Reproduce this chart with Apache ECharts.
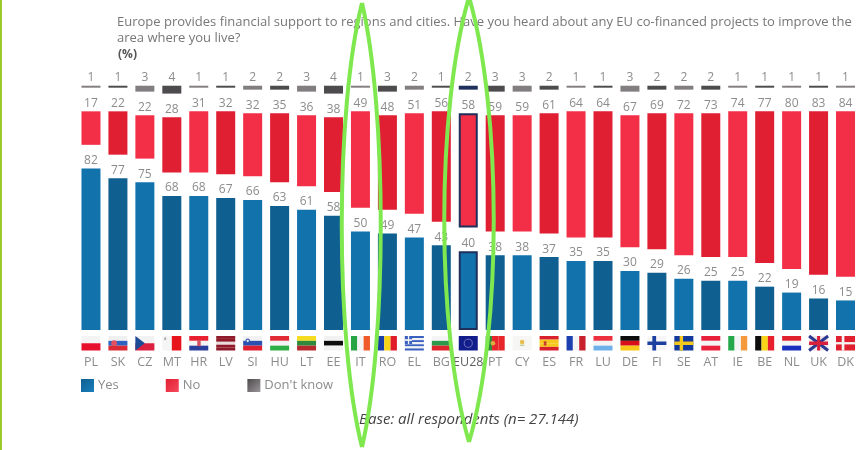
<!DOCTYPE html>
<html>
<head>
<meta charset="utf-8">
<style>html,body{margin:0;padding:0;background:#fff}#chart{width:862px;height:450px}</style>
<script src="https://cdn.jsdelivr.net/npm/echarts@6/dist/echarts.min.js"></script>
</head>
<body>
<div id="chart"></div>
<script>
// Survey results by country, in percent
const countries = ['PL','SK','CZ','MT','HR','LV','SI','HU','LT','EE','IT','RO','EL','BG','EU28','PT','CY','ES','FR','LU','DE','FI','SE','AT','IE','BE','NL','UK','DK'];
const yes      = [82,77,75,68,68,67,66,63,61,58,50,49,47,43,40,38,38,37,35,35,30,29,26,25,25,22,19,16,15];
const no       = [17,22,22,28,31,32,32,35,36,38,49,48,51,56,58,59,59,61,64,64,67,69,72,73,74,77,80,83,84];
const dontKnow = [1,1,3,4,1,1,2,2,3,4,1,3,2,1,2,3,3,2,1,1,3,2,2,2,1,1,1,1,1];

const titleLines = 'Europe provides financial support to regions and cities. Have you heard about any EU co-financed projects to improve the\narea where you live?';
const unitLabel = '(%)';
const baseNote = 'Base: all respondents (n= 27.144)';
const legendNames = ['Yes', 'No', "Don't know"];

const HIGHLIGHT = 'EU28';
const SPACER = 12;              // blank band between the stacked groups, holds the value labels
const spacer = countries.map(() => SPACER);

const yesShades = ['#1273ac', '#0f5f90'];
const noShades = ['#f32f47', '#e01f32'];
const dkShades = ['#827d80', '#4d4b4d'];
const navy = '#1f2f5c';

// Flags: stripe direction and colours, with optional details in 0..1 flag units
const flags = {
  PL:{h:['#f4f4f4','#e8112d']},
  SK:{h:['#f0f0f0','#2d62c0','#dc2a35'],extra:[['c',.3,.5,.2,'#e05060']]},
  CZ:{h:['#f2f2f2','#dc2040'],extra:[['t',0,0,.52,1,.5,'#1c4a96']]},
  MT:{v:['#f5f5f5','#e8141c'],extra:[['r',.1,.1,.1,.18,'#b0a8a8']]},
  HR:{h:['#e82030','#f4f4f4','#2a3f9c'],extra:[['r',.42,.28,.18,.42,'#d85060']]},
  LV:{h:['#8e1a2a','#8e1a2a','#e8dcdc','#8e1a2a','#8e1a2a']},
  SI:{h:['#f2f2f2','#2a50b0','#e01f30'],extra:[['c',.24,.33,.16,'#3a60b8'],['c',.24,.33,.08,'#f2f2f2']]},
  HU:{h:['#e02a34','#f4f4f4','#2fae45']},
  LT:{h:['#f5dc20','#2f8a3c','#b82a2e']},
  EE:{h:['#f2f2f2','#0d0d0d','#f2f2f2']},
  IT:{v:['#27a544','#f4f4f4','#f05a28']},
  RO:{v:['#1a3fa8','#f7d418','#e01b2a']},
  EL:{h:['#3a60c0','#f0f0f0','#3a60c0','#f0f0f0','#3a60c0','#f0f0f0','#3a60c0'],extra:[['r',0,0,.38,.55,'#3a60c0'],['r',.16,0,.07,.55,'#f0f0f0'],['r',0,.22,.38,.12,'#f0f0f0']]},
  BG:{h:['#f4f4f4','#2c9a4a','#e0242c']},
  EU28:{h:['#101d8a'],extra:[['o',.5,.5,.28,'#6f70c0']]},
  PT:{v:['#2f8a3c','#e8252a','#e8252a'],extra:[['c',.38,.5,.16,'#d8b040']]},
  CY:{h:['#f6f6f4'],extra:[['c',.5,.42,.16,'#e8c050'],['r',.38,.6,.24,.08,'#c0c890']]},
  ES:{h:['#d8202c','#f6c81e','#f6c81e','#d8202c'],extra:[['r',.22,.36,.14,.3,'#c84030']]},
  FR:{v:['#1c3fb0','#f4f4f4','#c8202c']},
  LU:{h:['#ec3040','#f4f4f4','#6eb0ea']},
  DE:{h:['#0d0d0d','#d8101c','#f8c818']},
  FI:{h:['#f6f6f6'],extra:[['r',0,.38,1,.24,'#1c40a0'],['r',.26,0,.2,1,'#1c40a0']]},
  SE:{h:['#12389c'],extra:[['r',0,.38,1,.24,'#f2c81c'],['r',.28,0,.18,1,'#f2c81c']]},
  AT:{h:['#e8203c','#f4f4f4','#e8203c']},
  IE:{v:['#25a84a','#f4f4f4','#f59a3c']},
  BE:{v:['#0d0d0d','#f7d418','#e8202c']},
  NL:{h:['#e0202c','#f4f4f4','#1a2fc0']},
  UK:{h:['#f0e4e8'],extra:[['t2',0,0,1,1,'#2a3a90'],['r',0,.38,1,.24,'#d8203c'],['r',.42,0,.16,1,'#d8203c']]},
  DK:{h:['#e0202e'],extra:[['r',0,.42,1,.16,'#f4f4f4'],['r',.3,0,.14,1,'#f4f4f4']]}
};

function flagPieces(spec, x, y, w, h) {
  const out = [];
  const rect = (rx, ry, rw, rh, fill) => out.push({type:'rect', shape:{x:x+rx*w, y:y+ry*h, width:rw*w, height:rh*h}, style:{fill}});
  const bands = spec.h || spec.v;
  bands.forEach((fill, i) => {
    const size = 1 / bands.length;
    spec.h ? rect(0, i*size, 1, size, fill) : rect(i*size, 0, size, 1, fill);
  });
  (spec.extra || []).forEach(e => {
    if (e[0] === 'r') rect(e[1], e[2], e[3], e[4], e[5]);
    if (e[0] === 'c') out.push({type:'circle', shape:{cx:x+e[1]*w, cy:y+e[2]*h, r:e[3]*h}, style:{fill:e[4]}});
    if (e[0] === 'o') out.push({type:'circle', shape:{cx:x+e[1]*w, cy:y+e[2]*h, r:e[3]*h}, style:{fill:'none', stroke:e[4], lineWidth:1}});
    if (e[0] === 't') out.push({type:'polygon', shape:{points:[[x,y],[x+e[5]*w,y+h/2],[x,y+h]]}, style:{fill:e[6]}});
    if (e[0] === 't2') out.push({type:'line', shape:{x1:x,y1:y,x2:x+w,y2:y+h}, style:{stroke:e[5],lineWidth:3}},
                                {type:'line', shape:{x1:x+w,y1:y,x2:x,y2:y+h}, style:{stroke:e[5],lineWidth:3}});
  });
  return out;
}

const labelStyle = {show:true, position:'top', distance:2, color:'#8c8c8c', fontFamily:'Open Sans', fontSize:12};

function barItems(values, shades, outlined) {
  return values.map((value, i) => {
    const isHighlight = countries[i] === HIGHLIGHT;
    const itemStyle = {color: isHighlight && !outlined ? navy : shades[i % 2]};
    if (isHighlight && outlined) { itemStyle.borderColor = navy; itemStyle.borderWidth = 2; }
    return {value, itemStyle};
  });
}

function stacked(name, data, color) {
  return {name, type:'bar', stack:'all', barWidth:19, data, label:labelStyle, itemStyle:{color}, silent:true};
}
function gap(name) {
  return {name, type:'bar', stack:'all', barWidth:19, data:spacer, itemStyle:{color:'transparent'}, silent:true};
}

function swatch(from, to) {
  return {color:new echarts.graphic.LinearGradient(0, 0, 1, 1, [{offset:0, color:from}, {offset:1, color:to}])};
}
const swatches = [swatch('#0f5f90', '#1a7fbc'), swatch('#e01f32', '#f64a5c'), swatch('#4d4b4d', '#9a9598')];

// Hand-drawn style ovals: two cubic curves meeting in a point at each end
function oval(topX, topY, bottomX, bottomY, leftX, rightX, cy1, cy2) {
  return [leftX, rightX].map(cx => ({
    type:'bezierCurve', z:100, silent:true,
    shape:{x1:topX, y1:topY, x2:bottomX, y2:bottomY, cpx1:cx, cpy1:cy1, cpx2:cx, cpy2:cy2},
    style:{stroke:'#7fe84f', lineWidth:4, fill:'none'}
  }));
}

const chart = echarts.init(document.getElementById('chart'), null, {renderer:'canvas'});
chart.setOption({
  backgroundColor:'#ffffff',
  animation:false,
  title:[
    {text:titleLines, left:112, top:9, textStyle:{color:'#777', fontFamily:'Open Sans', fontSize:13, fontWeight:'normal', lineHeight:16}},
    {text:unitLabel, left:113, top:44, textStyle:{color:'#555', fontFamily:'Open Sans', fontSize:12, fontWeight:'bold'}},
    {text:baseNote, left:354, top:407, textStyle:{color:'#444', fontFamily:'Open Sans', fontSize:15, fontStyle:'italic', fontWeight:'normal'}}
  ],
  legend:{
    data:legendNames.map((name, i) => ({name, itemStyle:swatches[i]})),
    left:76, top:374, icon:'rect', itemWidth:13, itemHeight:13, itemGap:47, selectedMode:false,
    textStyle:{color:'#8c8c8c', fontFamily:'Open Sans', fontSize:13, padding:[0,0,0,-1]}
  },
  grid:{left:77.5, right:3, top:83.75, height:246.25},
  xAxis:{
    type:'category',
    data:countries.map(c => c === HIGHLIGHT ? {value:c, textStyle:{color:'#5f5f5f'}} : c),
    axisLine:{show:false}, axisTick:{show:false},
    axisLabel:{interval:0, margin:26, color:'#8c8c8c', fontFamily:'Open Sans', fontSize:12.5}
  },
  yAxis:{type:'value', min:0, max:125, show:false},
  series:[
    stacked('Yes', barItems(yes, yesShades, true), yesShades[0]),
    gap('spacerLower'),
    stacked('No', barItems(no, noShades, true), noShades[0]),
    gap('spacerUpper'),
    stacked("Don't know", barItems(dontKnow, dkShades, false), '#6a6668'),
    {
      name:'flags', type:'custom', silent:true, data:countries.map((c, i) => [i, 0]),
      renderItem:(params, api) => {
        const p = api.coord([api.value(0), 0]);
        return {type:'group', children:flagPieces(flags[countries[params.dataIndex]], p[0]-9.5, p[1]+6, 19, 14.5)};
      }
    }
  ],
  graphic:[
    {type:'rect', z:100, silent:true, shape:{x:0, y:0, width:2, height:450}, style:{fill:'#9ccb2b'}},
    ...oval(362, 3, 362, 447, 335, 387, 110, 340),
    ...oval(469, -3, 469, 442, 436, 502, 110, 330)
  ]
});
</script>
</body>
</html>
